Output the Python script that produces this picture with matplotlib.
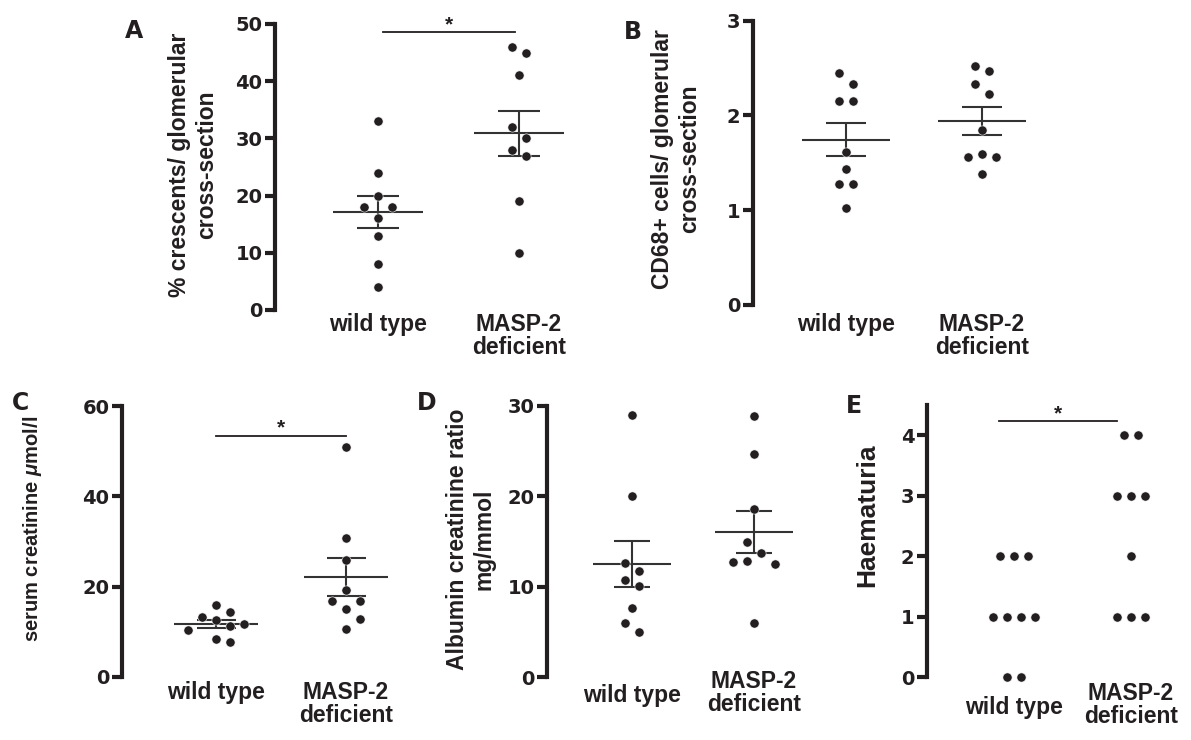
import numpy as np
import matplotlib.pyplot as plt

plt.rcParams['font.family'] = ['Liberation Sans', 'DejaVu Sans']
plt.rcParams['font.weight'] = 'bold'
plt.rcParams['mathtext.fontset'] = 'custom'
plt.rcParams['mathtext.rm'] = 'Liberation Sans:bold'
plt.rcParams['mathtext.it'] = 'Liberation Sans:italic:bold'

W, H = 1191, 740
INK = '#231f20'

groups = ['wild type', 'MASP-2\ndeficient']

# values, one list per group
crescents_wt = [33, 24, 20, 18, 18, 16, 13, 8, 4]
crescents_masp = [46, 45, 41, 32, 30, 28, 27, 19, 10]
cd68_wt = [2.45, 2.33, 2.15, 2.15, 1.61, 1.44, 1.28, 1.28, 1.02]
cd68_masp = [2.52, 2.47, 2.33, 2.23, 1.85, 1.59, 1.56, 1.56, 1.38]
creat_wt = [15.9, 14.4, 13.2, 12.7, 11.7, 11.3, 10.5, 8.5, 7.8]
creat_masp = [51.0, 30.8, 25.9, 19.2, 16.8, 16.8, 15.0, 12.9, 10.7]
acr_wt = [29.0, 20.0, 12.6, 11.7, 10.75, 10.1, 7.6, 6.0, 5.0]
acr_masp = [28.9, 24.7, 18.55, 14.9, 13.7, 12.85, 12.7, 12.5, 6.0]
haem_wt = [2, 2, 2, 1, 1, 1, 1, 0, 0]
haem_masp = [4, 4, 3, 3, 3, 2, 1, 1, 1]


def swarm(vals, ppu, step=14.0, thr=14.0):
    # simple beeswarm in pixel space, returns offsets in pixels
    vals = np.asarray(vals, float)
    order = np.argsort(-vals, kind='stable')
    placed = []
    offs = np.zeros(len(vals))
    for i in order:
        y = vals[i] * ppu
        for k in [0, 1, -1, 2, -2, 3, -3, 4, -4]:
            if all(np.hypot((k - kk) * step, y - yy) >= thr - 1e-6 for yy, kk in placed):
                break
        placed.append((y, k))
        offs[i] = k
    # centre each chain of crowded points
    cluster = [order[0]]
    clusters = []
    for a, b in zip(order[:-1], order[1:]):
        if (vals[a] - vals[b]) * ppu < thr:
            cluster.append(b)
        else:
            clusters.append(cluster)
            cluster = [b]
    clusters.append(cluster)
    for c in clusters:
        shift = np.round(np.mean(offs[c]) * 2) / 2
        offs[c] -= shift
    return offs * step


def panel(spine, wt, masp, y0, ytop, ymax, yticks, data, err=True):
    sp = masp - wt
    width = (masp - spine) + 0.6 * sp
    ax = fig.add_axes([spine / W, 1 - y0 / H, width / W, (y0 - ytop) / H])
    xmin = -(wt - spine) / sp
    ax.set_xlim(xmin, xmin + width / sp)
    ax.set_ylim(0, ymax)
    ppu = (y0 - ytop) / ymax
    for i, vals in enumerate(data):
        dx = swarm(vals, ppu) / sp
        ax.scatter(i + dx, vals, s=44, color=INK, edgecolor='white',
                   linewidth=0.4, zorder=3, clip_on=False)
        if err:
            m = np.mean(vals)
            se = np.std(vals, ddof=1) / np.sqrt(len(vals))
            ax.hlines(m, i - 0.32, i + 0.32, color='#333333', lw=1.5, zorder=2)
            ax.hlines([m - se, m + se], i - 0.15, i + 0.15, color='#333333', lw=1.5, zorder=2)
            ax.vlines(i, m - se, m + se, color='#333333', lw=1.5, zorder=2)
    for s in ['top', 'right', 'bottom']:
        ax.spines[s].set_visible(False)
    ax.spines['left'].set_linewidth(3)
    ax.spines['left'].set_color(INK)
    ax.set_xticks([])
    ax.set_yticks(yticks)
    ax.tick_params(axis='y', length=7, width=3, pad=2, color=INK, labelcolor=INK)
    for lbl in ax.get_yticklabels():
        lbl.set_fontfamily('DejaVu Sans')
        lbl.set_fontweight('bold')
        lbl.set_fontsize(14)
    return ax


def cat_labels(ax, off, center_wt=False):
    ax.annotate(groups[0], xy=(0, 0), xycoords=('data', 'axes fraction'),
                xytext=(0, -off - (14 if center_wt else 0)), textcoords='offset pixels',
                ha='center', va='top', fontsize=16.5, color=INK)
    ax.annotate(groups[1], xy=(1, 0), xycoords=('data', 'axes fraction'),
                xytext=(0, -off), textcoords='offset pixels',
                ha='center', va='top', fontsize=16.5, color=INK, linespacing=1.0)


def sig(ax, x1, x2, y):
    ax.plot([x1, x2], [y, y], color=INK, lw=1.3, clip_on=False)
    ax.annotate('*', xy=((x1 + x2) / 2, y), xytext=(0, 2), textcoords='offset pixels',
                ha='center', va='baseline', fontsize=15, fontweight='bold',
                color=INK, annotation_clip=False)


fig = plt.figure(figsize=(W / 100, H / 100), dpi=100)

axA = panel(275, 378, 519, 310, 24, 50, [0, 10, 20, 30, 40, 50],
            [crescents_wt, crescents_masp])
cat_labels(axA, 3)
sig(axA, 0.035, 0.97, 48.6)

axB = panel(753, 846, 982, 305, 20.7, 3, [0, 1, 2, 3], [cd68_wt, cd68_masp])
cat_labels(axB, 8)

axC = panel(122, 216, 346, 677, 406, 60, [0, 20, 40, 60], [creat_wt, creat_masp])
cat_labels(axC, 4)
sig(axC, 0.0, 1.0, 53.4)

axD = panel(547, 632, 754, 677.3, 405.7, 30, [0, 10, 20, 30], [acr_wt, acr_masp])
cat_labels(axD, -7, center_wt=True)

axE = panel(927, 1014, 1131, 677.3, 405, 4.5, [0, 1, 2, 3, 4], [haem_wt, haem_masp], err=False)
cat_labels(axE, 5, center_wt=True)
sig(axE, -0.13, 0.88, 4.23)

# y axis titles
ylab = dict(rotation=90, ha='center', va='center', multialignment='center', color=INK)
fig.text(193 / W, 1 - 165 / H, '% crescents/ glomerular\ncross-section', fontsize=16.5, **ylab)
fig.text(676 / W, 1 - 159 / H, 'CD68+ cells/ glomerular\ncross-section', fontsize=16.5, **ylab)
fig.text(33 / W, 1 - 529 / H, 'serum creatinine $\\mu$mol/l', fontsize=14.5, **ylab)
fig.text(471 / W, 1 - 539 / H, 'Albumin creatinine ratio\nmg/mmol', fontsize=16.5, **ylab)
fig.text(867 / W, 1 - 515 / H, 'Haematuria', fontsize=19, **ylab)

# panel letters
for letter, x, y in [('A', 125, 19), ('B', 624, 20), ('C', 12, 391), ('D', 417, 391), ('E', 846, 394)]:
    fig.text(x / W, 1 - y / H, letter, ha='left', va='top', fontsize=17,
             fontfamily='DejaVu Sans', fontweight='bold', color=INK)

fig.savefig('out.png', dpi=100)
